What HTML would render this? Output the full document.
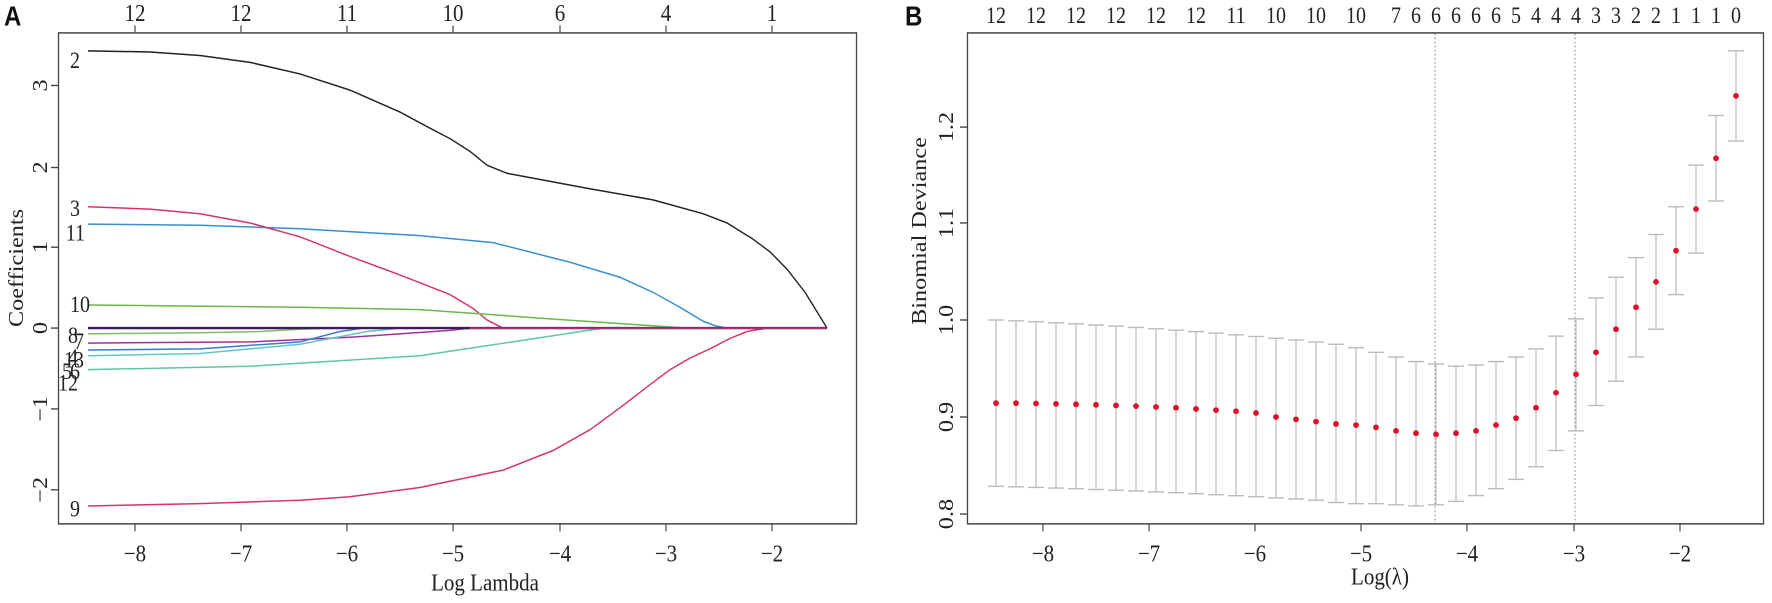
<!DOCTYPE html>
<html><head><meta charset="utf-8"><style>
html,body{margin:0;padding:0;background:#fff;overflow:hidden;}
svg{display:block;}
text{font-family:"Liberation Serif",serif;fill:#222;}
</style></head><body>
<svg id="s" width="1772" height="603" viewBox="0 0 1772 522" preserveAspectRatio="none" xmlns="http://www.w3.org/2000/svg">
<rect width="1772" height="522" fill="#fff"/>
<text x="4" y="22" style="font-family:'Liberation Sans',sans-serif;font-weight:bold;font-size:24px;fill:#111">A</text>
<text x="905" y="22" style="font-family:'Liberation Sans',sans-serif;font-weight:bold;font-size:24px;fill:#111">B</text>
<!-- Panel A -->
<rect x="58.5" y="28.5" width="798" height="425" fill="none" stroke="#444" stroke-width="1.3"/>
<g stroke="#444" stroke-width="1.2">
<line x1="135" y1="453" x2="135" y2="460"/><line x1="241" y1="453" x2="241" y2="460"/><line x1="347" y1="453" x2="347" y2="460"/><line x1="453" y1="453" x2="453" y2="460"/><line x1="560" y1="453" x2="560" y2="460"/><line x1="666" y1="453" x2="666" y2="460"/><line x1="772" y1="453" x2="772" y2="460"/>
<line x1="135" y1="28" x2="135" y2="22"/><line x1="241" y1="28" x2="241" y2="22"/><line x1="347" y1="28" x2="347" y2="22"/><line x1="453" y1="28" x2="453" y2="22"/><line x1="560" y1="28" x2="560" y2="22"/><line x1="666" y1="28" x2="666" y2="22"/><line x1="772" y1="28" x2="772" y2="22"/>
<line x1="58" y1="74" x2="51" y2="74"/><line x1="58" y1="145" x2="51" y2="145"/><line x1="58" y1="214" x2="51" y2="214"/><line x1="58" y1="284" x2="51" y2="284"/><line x1="58" y1="354" x2="51" y2="354"/><line x1="58" y1="424" x2="51" y2="424"/>
</g>
<g font-size="21" text-anchor="middle">
<text x="135" y="486">−8</text><text x="241" y="486">−7</text><text x="347" y="486">−6</text><text x="453" y="486">−5</text><text x="560" y="486">−4</text><text x="666" y="486">−3</text><text x="772" y="486">−2</text>
<text x="135" y="18">12</text><text x="241" y="18">12</text><text x="347" y="18">11</text><text x="453" y="18">10</text><text x="560" y="18">6</text><text x="666" y="18">4</text><text x="772" y="18">1</text>
<text x="485" y="511">Log Lambda</text>
<g transform="rotate(-90)">
<text x="-74" y="47">3</text><text x="-145" y="47">2</text><text x="-214" y="47">1</text><text x="-284" y="47">0</text><text x="-354" y="47">−1</text><text x="-424" y="47">−2</text>
<text x="-232" y="23">Coefficients</text>
</g>
</g>
<g fill="none" stroke-width="1.3">
<path stroke="#222" d="M88,44 L150,45 L200,48 L250,54 L300,64 L350,78 L400,97 L430,111 L450,120 L470,131 L487,143 L507,150 L587,163 L653,173 L703,185 L727,193 L753,207 L770,218 L787,233 L805,253 L820,274 L827,284"/>
<path stroke="#3a8fd0" d="M88,194 L200,195 L300,198 L420,204 L493,210 L570,227 L620,240 L653,253 L680,266 L703,278 L715,282 L727,284"/>
<path stroke="#d6336c" d="M88,179 L150,181 L200,185 L250,193 L300,205 L350,222 L400,238 L450,255 L473,267 L487,277 L503,284 L827,284"/>
<path stroke="#6cb84a" d="M88,264 L300,266 L420,268 L550,276 L687,284"/>
<path stroke="#d6336c" d="M88,438 L200,436 L300,433 L350,430 L420,422 L503,407 L553,390 L590,372 L620,353 L650,333 L670,320 L690,310 L710,302 L730,293 L747,287 L767,284 L827,284"/>
<path stroke="#7fbf6a" d="M88,289 L200,288 L260,287 L300,285 L330,284"/>
<path stroke="#a0309a" d="M88,297 L250,296 L350,292 L450,286 L470,284"/>
<path stroke="#3a7ad0" d="M88,303 L200,302 L300,296 L340,287 L363,284"/>
<path stroke="#5fc6c9" d="M88,308 L200,306 L300,298 L367,287 L400,284"/>
<path stroke="#5fc6a8" d="M88,320 L250,317 L420,308 L520,295 L603,284"/>
<path stroke="#3a1a5a" stroke-width="2" d="M88,284 L827,284"/>
<path stroke="#c0307a" d="M470,284 L827,284"/>
</g>
<g font-size="20" text-anchor="end">
<text x="80" y="59">2</text><text x="80" y="187">3</text><text x="85" y="208">11</text><text x="90" y="270">10</text>
<text x="78" y="297">8</text><text x="84" y="302">7</text><text x="84" y="318">13</text><text x="78" y="316">4</text>
<text x="72" y="328">5</text><text x="80" y="328">6</text><text x="78" y="338">12</text><text x="80" y="447">9</text>
</g>
<!-- Panel B -->
<rect x="967.5" y="28.5" width="796" height="425" fill="none" stroke="#444" stroke-width="1.3"/>
<g stroke="#444" stroke-width="1.2">
<line x1="1043" y1="453" x2="1043" y2="460"/><line x1="1149" y1="453" x2="1149" y2="460"/><line x1="1255" y1="453" x2="1255" y2="460"/><line x1="1361" y1="453" x2="1361" y2="460"/><line x1="1467" y1="453" x2="1467" y2="460"/><line x1="1574" y1="453" x2="1574" y2="460"/><line x1="1680" y1="453" x2="1680" y2="460"/>
<line x1="967" y1="110" x2="960" y2="110"/><line x1="967" y1="193" x2="960" y2="193"/><line x1="967" y1="277" x2="960" y2="277"/><line x1="967" y1="361" x2="960" y2="361"/><line x1="967" y1="445" x2="960" y2="445"/>
</g>
<g stroke="#888" stroke-width="1" stroke-dasharray="1.5,2">
<line x1="1435" y1="29" x2="1435" y2="453"/><line x1="1575" y1="29" x2="1575" y2="453"/>
</g>
<g font-size="21" text-anchor="middle">
<text x="1043" y="486">−8</text><text x="1149" y="486">−7</text><text x="1255" y="486">−6</text><text x="1361" y="486">−5</text><text x="1467" y="486">−4</text><text x="1574" y="486">−3</text><text x="1680" y="486">−2</text>
<text x="1380" y="506">Log(λ)</text>
<g transform="rotate(-90)">
<text x="-110" y="953">1.2</text><text x="-193" y="953">1.1</text><text x="-277" y="953">1.0</text><text x="-361" y="953">0.9</text><text x="-445" y="953">0.8</text>
<text x="-200" y="926">Binomial Deviance</text>
</g>
</g>
<g id="top" font-size="20" text-anchor="middle"></g>
<g id="bars" stroke="#bbb" stroke-width="1.2"></g>
<g id="dots" fill="#e0102a"></g>
</svg>
<script>
var ns="http://www.w3.org/2000/svg";
var dy=[349,349,349.3,349.6,350,350.4,351,351.6,352.3,353,354,355,356,357.5,361,363,365,
367,368,370,373,375,376,375,373,368,362,353,340,324,305,285,266,244,217,181,137,83];
var up=[],lo=[];
var upR=[298,301,305,309,313,315,317,316,313,309,302,291,276,258,240,223,203,179,143,100,44];
var loR=[435,436,436,437,438,437,434,429,423,415,404,390,373,351,330,309,285,255,219,174,122];
for(var i=0;i<17;i++){var t=i/16;up.push(277+19*(0.6*t+0.4*t*t));lo.push(421+12*(0.6*t+0.4*t*t));}
up=up.concat(upR);lo=lo.concat(loR);
var B=document.getElementById('bars'),D=document.getElementById('dots');
function L(a,b,c,d){var l=document.createElementNS(ns,'line');l.setAttribute('x1',a);l.setAttribute('y1',b);l.setAttribute('x2',c);l.setAttribute('y2',d);B.appendChild(l);}
for(var i=0;i<38;i++){var x=996+20*i;
L(x,up[i],x,lo[i]);L(x-8,up[i],x+8,up[i]);L(x-8,lo[i],x+8,lo[i]);
var c=document.createElementNS(ns,'ellipse');c.setAttribute('cx',x);c.setAttribute('cy',dy[i]);c.setAttribute('rx',2.9);c.setAttribute('ry',2.5);D.appendChild(c);}
var T=document.getElementById('top');
var labs=[[996,12],[1036,12],[1076,12],[1116,12],[1156,12],[1196,12],[1236,11],[1276,10],[1316,10],[1356,10],
[1396,7],[1416,6],[1436,6],[1456,6],[1476,6],[1496,6],[1516,5],[1536,4],[1556,4],[1576,4],[1596,3],[1616,3],[1636,2],[1656,2],[1676,1],[1696,1],[1716,1],[1736,0]];
labs.forEach(function(p){var t=document.createElementNS(ns,'text');t.setAttribute('x',p[0]);t.setAttribute('y',20);t.textContent=p[1];T.appendChild(t);});
</script>
</body></html>
